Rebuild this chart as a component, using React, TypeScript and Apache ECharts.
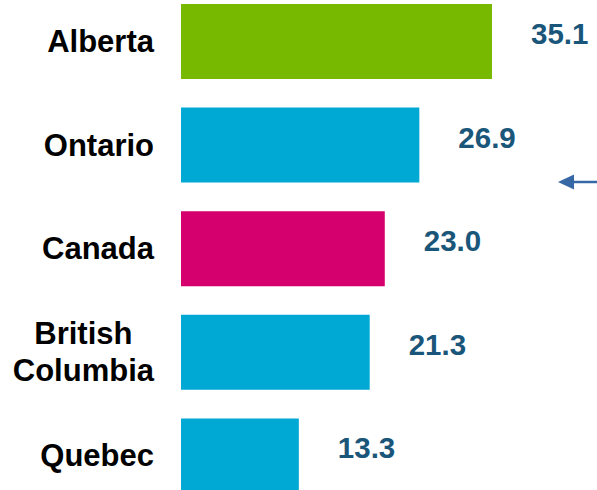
import React, { useEffect, useRef } from "react";
import * as echarts from "echarts";

const categories = ["Alberta", "Ontario", "Canada", "British Columbia", "Quebec"];
const values = [35.1, 26.9, 23.0, 21.3, 13.3];

const GREEN = "#76B900";
const BLUE = "#00A9D4";
const MAGENTA = "#D5006D";
const barColors = [GREEN, BLUE, MAGENTA, BLUE, BLUE];

const FONT = "Liberation Sans, Arial, sans-serif";

export default function App() {
  const ref = useRef<HTMLDivElement>(null);

  useEffect(() => {
    if (!ref.current) return;
    const chart = echarts.init(ref.current, null, { renderer: "svg" });
    chart.setOption({
      animation: false,
      backgroundColor: "#ffffff",
      grid: {
        left: 181,
        top: -10.3,
        width: 354.4,
        height: 518,
        containLabel: false,
        outerBoundsMode: "none",
      },
      xAxis: {
        type: "value",
        min: 0,
        max: 40,
        show: false,
      },
      yAxis: {
        type: "category",
        data: categories,
        inverse: true,
        axisLine: { show: false },
        axisTick: { show: false },
        splitLine: { show: false },
        axisLabel: {
          margin: 27,
          color: "#000000",
          fontFamily: FONT,
          fontWeight: "bold",
          fontSize: 31,
          lineHeight: 37,
          formatter: (v: string) =>
            v.includes(" ")
              ? v.split(" ").map((w) => `{c|${w}}`).join("\n")
              : v,
          rich: {
            c: {
              align: "center",
              color: "#000000",
              fontFamily: FONT,
              fontWeight: "bold",
              fontSize: 31,
              lineHeight: 37,
            },
          },
        },
      },
      series: [
        {
          type: "bar",
          data: values.map((v, i) => ({ value: v, itemStyle: { color: barColors[i] } })),
          barWidth: 75,
          label: {
            show: true,
            position: "right",
            distance: 39,
            offset: [0, -8],
            color: "#1A5679",
            fontFamily: FONT,
            fontWeight: "bold",
            fontSize: 29.5,
            formatter: (p: any) => Number(p.value).toFixed(1),
          },
        },
      ],
      graphic: [
        {
          type: "line",
          shape: { x1: 572, y1: 182, x2: 600, y2: 182 },
          style: { stroke: "#3568A4", lineWidth: 2.5 },
        },
        {
          type: "polygon",
          shape: { points: [[558, 182], [574, 174.5], [574, 189.5]] },
          style: { fill: "#3568A4" },
        },
      ],
    });
    return () => chart.dispose();
  }, []);

  return (
    <div
      ref={ref}
      style={{ position: "absolute", left: 0, top: 0, width: 597, height: 490 }}
    />
  );
}
